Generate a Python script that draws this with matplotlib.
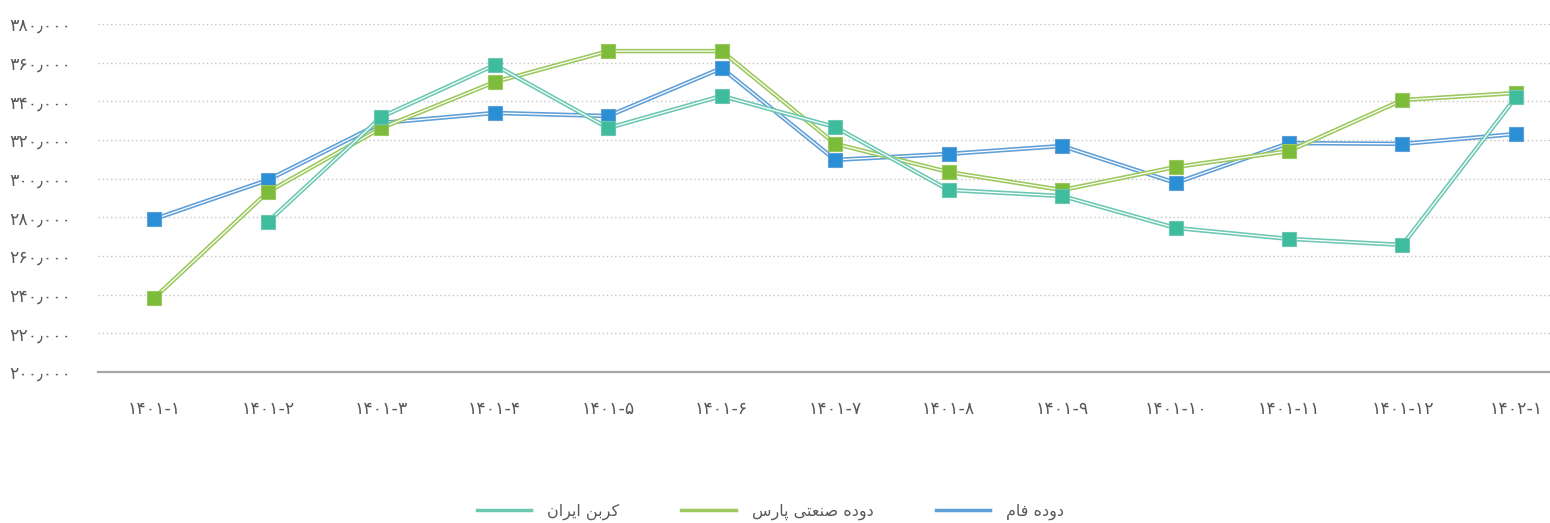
import numpy as np
import matplotlib
matplotlib.use("Agg")
import matplotlib.pyplot as plt
from matplotlib.ticker import FuncFormatter, MultipleLocator

plt.rcParams['font.family'] = ['DejaVu Sans']

# data
months = ["1401-1", "1401-2", "1401-3", "1401-4", "1401-5", "1401-6", "1401-7",
          "1401-8", "1401-9", "1401-10", "1401-11", "1401-12", "1402-1"]
dode_fam = [279100, 299300, 328800, 334000, 332400, 357200, 309700,
            312800, 316900, 297800, 318400, 318000, 323100]
dode_pars = [238300, 293100, 326200, 350000, 366000, 366000, 318000,
             303400, 294100, 306000, 314300, 340700, 344300]
carbon_iran = [np.nan, 277600, 331900, 358800, 326200, 342800, 326700,
               294100, 291000, 274500, 268800, 265700, 342200]
names = ["دوده فام", "دوده صنعتی پارس", "کربن ایران"]

# minimal persian shaping (matplotlib has no bidi / joining support)
FORMS = {
    'ا': ('\uFE8D', '\uFE8E', None, None),
    'ب': ('\uFE8F', '\uFE90', '\uFE91', '\uFE92'),
    'پ': ('\uFB56', '\uFB57', '\uFB58', '\uFB59'),
    'ت': ('\uFE95', '\uFE96', '\uFE97', '\uFE98'),
    'د': ('\uFEA9', '\uFEAA', None, None),
    'ر': ('\uFEAD', '\uFEAE', None, None),
    'س': ('\uFEB1', '\uFEB2', '\uFEB3', '\uFEB4'),
    'ص': ('\uFEB9', '\uFEBA', '\uFEBB', '\uFEBC'),
    'ع': ('\uFEC9', '\uFECA', '\uFECB', '\uFECC'),
    'ف': ('\uFED1', '\uFED2', '\uFED3', '\uFED4'),
    'ک': ('\uFB8E', '\uFB8F', '\uFB90', '\uFB91'),
    'م': ('\uFEE1', '\uFEE2', '\uFEE3', '\uFEE4'),
    'ن': ('\uFEE5', '\uFEE6', '\uFEE7', '\uFEE8'),
    'ه': ('\uFEE9', '\uFEEA', '\uFEEB', '\uFEEC'),
    'و': ('\uFEED', '\uFEEE', None, None),
    'ی': ('\uFBFC', '\uFBFD', '\uFBFE', '\uFBFF'),
}


def shape(text):
    # join letters, then put them in visual (right to left) order
    out = []
    for i, c in enumerate(text):
        if c not in FORMS:
            out.append(c)
            continue
        iso, fin, ini, med = FORMS[c]
        prev = text[i - 1] if i > 0 else None
        nxt = text[i + 1] if i + 1 < len(text) else None
        jp = prev in FORMS and FORMS[prev][2] is not None
        jn = ini is not None and nxt in FORMS
        if jp and jn:
            out.append(med)
        elif jp:
            out.append(fin)
        elif jn:
            out.append(ini)
        else:
            out.append(iso)
    return ''.join(reversed(out))


FA_DIGITS = str.maketrans("0123456789,", "۰۱۲۳۴۵۶۷۸۹\u066B")


def fa(s):
    return s.translate(FA_DIGITS)


colors = {"fam": ("#2b8fd6", "#5f9fd8"),
          "pars": ("#7cbc3a", "#9cc85e"),
          "iran": ("#3fbb9d", "#6cc8b2")}

fig = plt.figure(figsize=(15.5, 5.23), dpi=100)
ax = fig.add_axes([0.063, 0.289, 0.937, 0.665])
x = np.arange(len(months))

series = [(dode_fam, "fam"), (dode_pars, "pars"), (carbon_iran, "iran")]
for i, (vals, key) in enumerate(series):
    mc, lc = colors[key]
    ax.plot(x, vals, color=lc, lw=3.2, zorder=3 + i, solid_capstyle="round")
    ax.plot(x, vals, color="white", lw=0.9, zorder=3 + i)
    ax.plot(x, vals, ls="none", marker="s", markersize=10, markerfacecolor=mc,
            markeredgecolor=lc, markeredgewidth=0.8, zorder=3 + i)

ax.set_xlim(-0.5, 12.3)
ax.set_ylim(200000, 380000)
ax.yaxis.set_major_locator(MultipleLocator(20000))
ax.yaxis.set_major_formatter(FuncFormatter(lambda v, p: fa(f"{v:,.0f}")))
ax.set_xticks(x)
ax.set_xticklabels([fa(m) for m in months])
ax.tick_params(axis="both", length=0, labelsize=12.5, labelcolor="#595959")
ax.tick_params(axis="x", pad=20)
ax.tick_params(axis="y", pad=19)
ax.grid(axis="y", color="#c4c4c4", ls=(0, (1, 2)), lw=1)
ax.set_axisbelow(True)
for s in ["top", "right", "left"]:
    ax.spines[s].set_visible(False)
ax.spines["bottom"].set_color("#a6a6a6")
ax.spines["bottom"].set_linewidth(1.6)

# legend (left to right as in the reference)
handles = [plt.Line2D([], [], color=colors[k][1], lw=2.5) for k in ["iran", "pars", "fam"]]
labels = [shape(names[2]), shape(names[1]), shape(names[0])]
fig.legend(handles, labels, loc="center", bbox_to_anchor=(0.497, 0.022), ncol=3,
           frameon=False, fontsize=11.5, labelcolor="#595959", handlelength=3.4,
           columnspacing=3.9, handletextpad=1.0)

fig.savefig("out.png", dpi=100)
